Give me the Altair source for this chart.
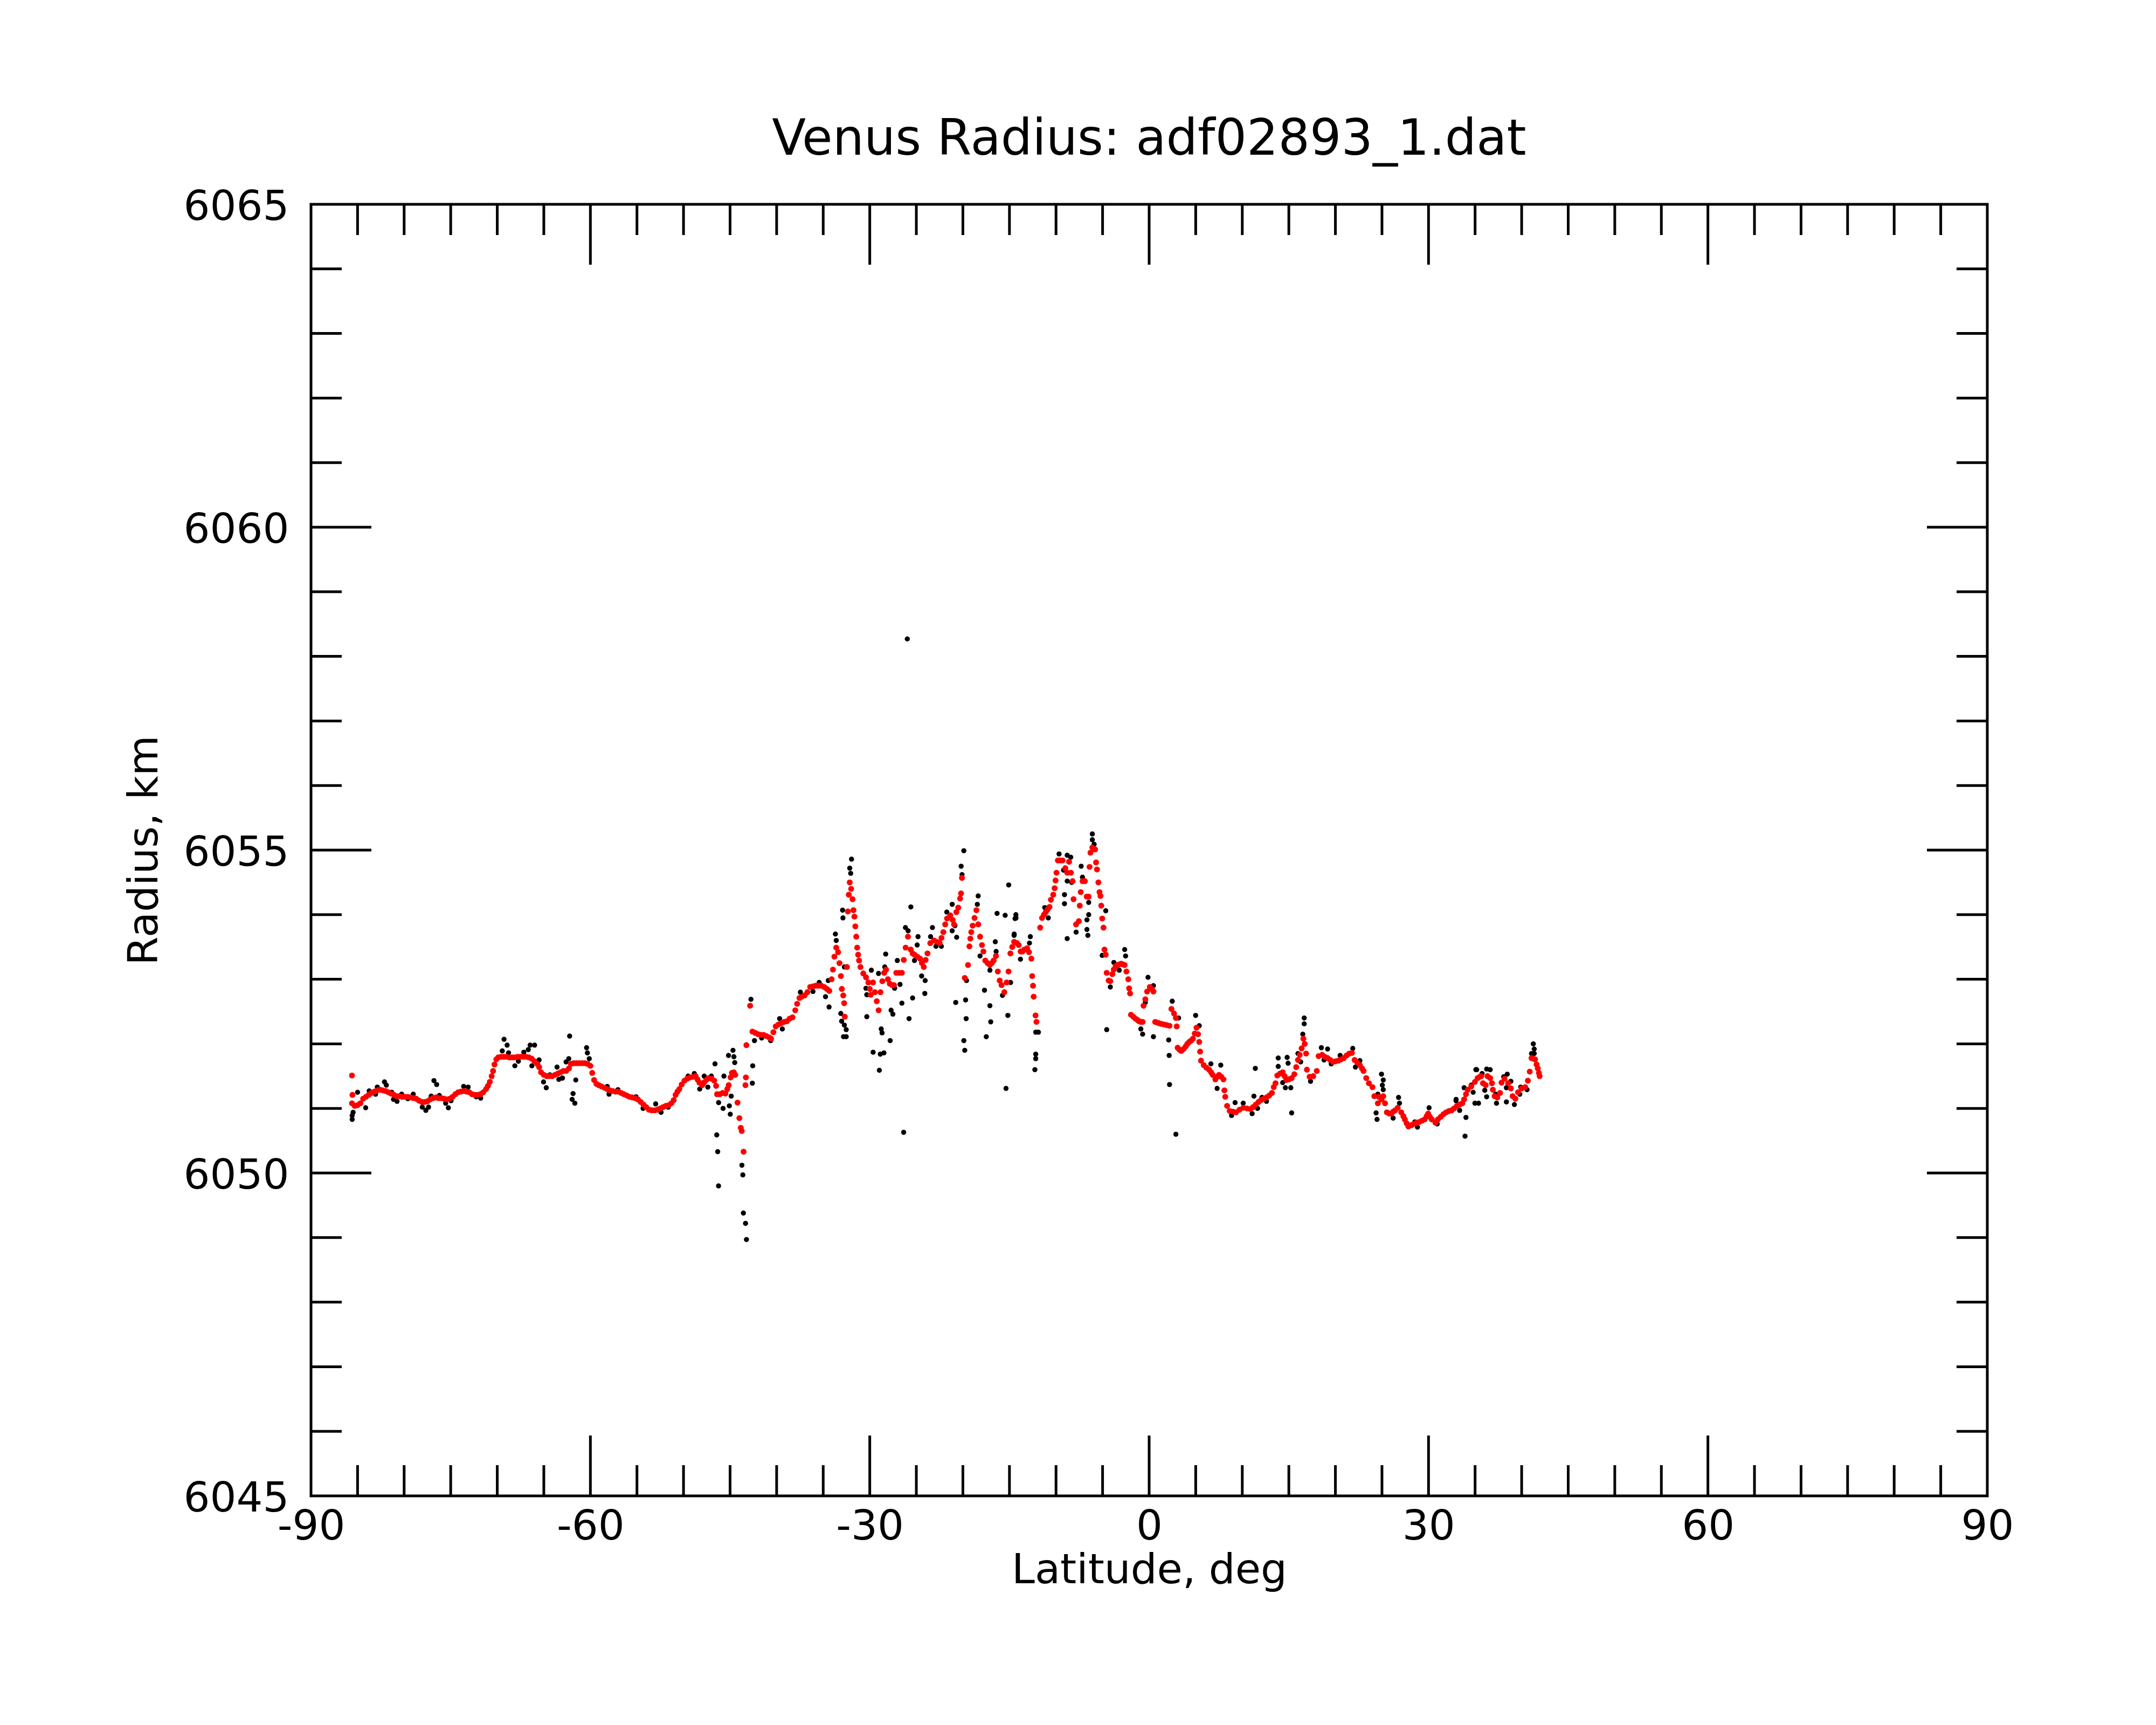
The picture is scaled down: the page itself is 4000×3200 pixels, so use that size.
import altair as alt
import pandas as pd

# ---------------- data ----------------
# smoothed radius (red dots): (latitude deg, radius km)
red_south = [
    (-85.6, 6051.08), (-85.6, 6051.51), (-85.55, 6051.21), (-85.3, 6051.04), (-85.0, 6051.05),
    (-84.7, 6051.08), (-84.4, 6051.15), (-84.1, 6051.18), (-83.8, 6051.21), (-83.5, 6051.24),
    (-83.2, 6051.26), (-82.9, 6051.28), (-82.6, 6051.29), (-82.3, 6051.28), (-82.0, 6051.27),
    (-81.7, 6051.25), (-81.4, 6051.23), (-81.1, 6051.21), (-80.8, 6051.19), (-80.5, 6051.19),
    (-80.2, 6051.18), (-79.9, 6051.18), (-79.6, 6051.18), (-79.3, 6051.17), (-79.0, 6051.16),
    (-78.7, 6051.15), (-78.4, 6051.12), (-78.1, 6051.10), (-77.8, 6051.10), (-77.5, 6051.11),
    (-77.2, 6051.14), (-76.9, 6051.16), (-76.6, 6051.17), (-76.3, 6051.16), (-76.0, 6051.16),
    (-75.7, 6051.15), (-75.4, 6051.14), (-75.1, 6051.15), (-74.8, 6051.18), (-74.5, 6051.22),
    (-74.2, 6051.25), (-73.9, 6051.26), (-73.6, 6051.27), (-73.3, 6051.26), (-73.0, 6051.25),
    (-72.7, 6051.22), (-72.4, 6051.21), (-72.1, 6051.21), (-71.8, 6051.22), (-71.5, 6051.25),
    (-71.2, 6051.30), (-71.0, 6051.35), (-70.8, 6051.41), (-70.6, 6051.50), (-70.45, 6051.58),
    (-70.3, 6051.68), (-70.1, 6051.76), (-69.9, 6051.79), (-69.6, 6051.80), (-69.3, 6051.80),
    (-69.0, 6051.80), (-68.7, 6051.79), (-68.4, 6051.79), (-68.1, 6051.79), (-67.8, 6051.80),
    (-67.5, 6051.80), (-67.2, 6051.80), (-66.9, 6051.80), (-66.6, 6051.79), (-66.3, 6051.77),
    (-66.0, 6051.73), (-65.7, 6051.69), (-65.5, 6051.64), (-65.3, 6051.56), (-65.0, 6051.52),
    (-64.7, 6051.50), (-64.4, 6051.50), (-64.1, 6051.50), (-63.8, 6051.52), (-63.5, 6051.54),
    (-63.2, 6051.56), (-62.9, 6051.58), (-62.6, 6051.58), (-62.3, 6051.62), (-62.1, 6051.69),
    (-61.8, 6051.70), (-61.5, 6051.70), (-61.2, 6051.70), (-60.9, 6051.70), (-60.6, 6051.70),
    (-60.3, 6051.69), (-60.0, 6051.66), (-59.8, 6051.55), (-59.6, 6051.44), (-59.35, 6051.38),
    (-59.1, 6051.36), (-58.8, 6051.34), (-58.5, 6051.32), (-58.2, 6051.30), (-57.9, 6051.28),
    (-57.6, 6051.27), (-57.3, 6051.26), (-57.0, 6051.26), (-56.7, 6051.24), (-56.4, 6051.22),
    (-56.1, 6051.20), (-55.8, 6051.18), (-55.5, 6051.17), (-55.2, 6051.16), (-54.9, 6051.14),
    (-54.6, 6051.10), (-54.3, 6051.06), (-54.0, 6051.02), (-53.7, 6050.98), (-53.4, 6050.97),
    (-53.1, 6050.97), (-52.8, 6050.98), (-52.5, 6051.00), (-52.2, 6051.02), (-51.9, 6051.04),
    (-51.6, 6051.05), (-51.3, 6051.08), (-51.05, 6051.13), (-50.85, 6051.21), (-50.65, 6051.26),
    (-50.45, 6051.30), (-50.2, 6051.37), (-49.9, 6051.43), (-49.6, 6051.46), (-49.3, 6051.48),
    (-49.0, 6051.49), (-48.7, 6051.50), (-48.5, 6051.45), (-48.3, 6051.40), (-48.0, 6051.36),
    (-47.8, 6051.40), (-47.55, 6051.44), (-47.3, 6051.47), (-47.0, 6051.46), (-46.7, 6051.43),
    (-46.5, 6051.35), (-46.4, 6051.22), (-46.1, 6051.22), (-45.8, 6051.24), (-45.5, 6051.23),
    (-45.3, 6051.30), (-45.15, 6051.36), (-44.95, 6051.48), (-44.8, 6051.55), (-44.6, 6051.56),
    (-44.45, 6051.52), (-44.2, 6051.09), (-44.0, 6050.85), (-43.85, 6050.70), (-43.75, 6050.65),
    (-43.55, 6050.33), (-43.35, 6051.36), (-43.3, 6051.48), (-43.25, 6051.98), (-42.85, 6052.59),
    (-42.6, 6052.19), (-42.3, 6052.17), (-42.0, 6052.15), (-41.7, 6052.14), (-41.4, 6052.14),
    (-41.1, 6052.12), (-40.8, 6052.10), (-40.6, 6052.08), (-40.35, 6052.18), (-40.1, 6052.27),
    (-39.8, 6052.30), (-39.5, 6052.32), (-39.2, 6052.34), (-38.9, 6052.35), (-38.6, 6052.39),
    (-38.3, 6052.41), (-38.0, 6052.52), (-37.8, 6052.62), (-37.55, 6052.71), (-37.3, 6052.73),
]
red_middle = [
    (-37.0, 6052.75), (-36.7, 6052.80), (-36.4, 6052.88), (-36.1, 6052.89), (-35.8, 6052.90),
    (-35.5, 6052.90), (-35.2, 6052.90), (-34.9, 6052.88), (-34.6, 6052.85), (-34.35, 6052.82),
    (-34.1, 6053.00), (-33.95, 6053.15), (-33.8, 6053.35), (-33.6, 6053.49), (-33.4, 6053.42),
    (-33.25, 6053.25), (-33.1, 6053.05), (-33.0, 6052.85), (-32.85, 6052.75), (-32.75, 6052.63),
    (-32.68, 6052.42), (-32.45, 6053.19), (-32.35, 6054.05), (-32.25, 6054.31), (-32.15, 6054.50),
    (-32.0, 6054.40), (-31.85, 6054.24), (-31.75, 6054.07), (-31.65, 6053.97), (-31.55, 6053.82),
    (-31.45, 6053.66), (-31.35, 6053.49), (-31.25, 6053.38), (-31.15, 6053.29), (-31.0, 6053.19),
    (-30.7, 6053.09), (-30.4, 6053.03), (-30.15, 6052.95), (-30.0, 6052.85), (-29.9, 6052.76),
    (-29.65, 6052.95), (-29.45, 6052.80), (-29.25, 6052.66), (-29.05, 6052.52), (-28.85, 6052.80),
    (-28.65, 6052.97), (-28.45, 6053.10), (-28.25, 6053.15), (-28.05, 6053.00), (-27.85, 6052.93),
    (-27.6, 6052.91), (-27.4, 6052.91), (-27.15, 6053.10), (-26.85, 6053.10), (-26.55, 6053.10),
    (-26.35, 6053.30), (-26.15, 6053.49), (-25.9, 6053.66), (-25.6, 6053.46), (-25.4, 6053.40),
    (-25.2, 6053.38), (-24.9, 6053.35), (-24.6, 6053.32), (-24.4, 6053.25), (-24.2, 6053.19),
    (-24.0, 6053.30), (-23.8, 6053.40), (-23.5, 6053.56), (-23.1, 6053.60), (-22.8, 6053.58),
    (-22.5, 6053.56), (-22.3, 6053.64), (-22.1, 6053.73), (-21.9, 6053.85), (-21.7, 6053.94),
    (-21.35, 6053.99), (-21.1, 6053.92), (-20.95, 6053.85), (-20.7, 6054.04), (-20.5, 6054.11),
    (-20.3, 6054.25), (-20.2, 6054.33), (-20.1, 6054.57), (-19.8, 6053.02), (-19.45, 6053.22),
    (-19.3, 6053.51), (-19.2, 6053.63), (-19.1, 6053.73), (-18.95, 6053.83), (-18.75, 6053.95),
    (-18.55, 6054.07), (-18.35, 6053.85), (-18.15, 6053.66), (-17.95, 6053.53), (-17.8, 6053.43),
    (-17.6, 6053.29), (-17.35, 6053.25), (-17.1, 6053.22), (-16.9, 6053.25), (-16.7, 6053.29),
    (-16.45, 6053.36), (-16.25, 6053.12), (-16.05, 6052.98), (-15.85, 6052.91), (-15.55, 6052.80),
    (-15.3, 6052.95), (-15.1, 6053.12), (-14.9, 6053.40), (-14.7, 6053.50), (-14.5, 6053.58),
    (-14.2, 6053.56), (-14.0, 6053.53), (-13.8, 6053.43), (-13.6, 6053.43), (-13.4, 6053.46),
    (-13.1, 6053.48), (-12.9, 6053.42), (-12.65, 6053.32), (-12.56, 6053.05), (-12.47, 6052.90),
    (-12.4, 6052.73), (-12.2, 6052.44), (-12.1, 6052.34), (-11.7, 6053.80), (-11.5, 6053.95),
    (-11.3, 6054.00), (-11.1, 6054.04), (-10.9, 6054.08), (-10.7, 6054.12), (-10.55, 6054.23),
    (-10.3, 6054.31), (-10.15, 6054.41), (-10.05, 6054.53), (-9.95, 6054.65), (-9.8, 6054.84),
    (-9.55, 6054.84), (-9.3, 6054.84), (-9.0, 6054.72), (-8.8, 6054.65), (-8.6, 6054.82),
    (-8.4, 6054.65), (-8.22, 6054.52), (-8.12, 6054.24), (-7.85, 6053.85), (-7.55, 6053.90),
    (-7.45, 6054.14), (-7.35, 6054.35), (-7.15, 6054.52), (-6.9, 6054.52), (-6.7, 6054.28),
    (-6.5, 6054.28), (-6.4, 6054.74), (-6.3, 6054.96), (-6.1, 6055.04), (-5.8, 6055.01),
    (-5.7, 6054.81), (-5.6, 6054.70), (-5.45, 6054.50), (-5.33, 6054.35), (-5.23, 6054.29),
    (-5.14, 6054.14), (-5.04, 6053.94), (-4.9, 6053.80), (-4.8, 6053.46), (-4.66, 6053.38),
    (-4.56, 6053.10), (-4.35, 6052.98), (-4.17, 6052.97), (-3.95, 6053.08), (-3.8, 6053.15),
    (-3.6, 6053.20), (-3.4, 6053.22), (-3.2, 6053.23), (-3.0, 6053.24), (-2.8, 6053.23),
    (-2.63, 6053.22), (-2.44, 6053.12), (-2.24, 6053.00), (-2.15, 6052.86), (-2.05, 6052.78),
    (-1.95, 6052.45), (-1.7, 6052.42), (-1.47, 6052.39), (-1.25, 6052.37), (-1.09, 6052.35),
    (-0.9, 6052.34), (-0.7, 6052.34), (-0.6, 6052.59), (-0.41, 6052.69), (-0.22, 6052.81),
]
red_north = [
    (0.07, 6052.88), (0.3, 6052.85), (0.46, 6052.81), (0.65, 6052.34), (0.85, 6052.33),
    (1.04, 6052.32), (1.3, 6052.31), (1.6, 6052.30), (1.9, 6052.29), (2.19, 6052.28),
    (2.39, 6052.54), (2.67, 6052.47), (2.87, 6052.40), (2.96, 6052.27), (3.06, 6051.94),
    (3.25, 6051.91), (3.45, 6051.89), (3.7, 6051.92), (3.93, 6051.96), (4.1, 6052.00),
    (4.31, 6052.03), (4.5, 6052.05), (4.7, 6052.08), (4.9, 6052.16), (5.09, 6052.25),
    (5.25, 6052.15), (5.38, 6052.03), (5.47, 6051.88), (5.57, 6051.74), (5.86, 6051.67),
    (6.15, 6051.63), (6.44, 6051.60), (6.65, 6051.56), (6.82, 6051.52), (7.11, 6051.45),
    (7.3, 6051.49), (7.5, 6051.52), (7.75, 6051.49), (7.98, 6051.45), (8.08, 6051.28),
    (8.17, 6051.18), (8.37, 6051.04), (8.65, 6050.96), (9.0, 6050.95), (9.33, 6050.94),
    (9.7, 6050.98), (10.1, 6051.01), (10.5, 6051.00), (10.87, 6050.99), (11.15, 6051.02),
    (11.45, 6051.06), (11.75, 6051.10), (12.02, 6051.13), (12.3, 6051.15), (12.6, 6051.17),
    (12.9, 6051.20), (13.18, 6051.24), (13.38, 6051.33), (13.57, 6051.39), (13.76, 6051.51),
    (14.05, 6051.54), (14.34, 6051.56), (14.55, 6051.50), (14.73, 6051.44), (15.0, 6051.45),
    (15.3, 6051.47), (15.59, 6051.53), (15.79, 6051.64), (15.98, 6051.75), (16.17, 6051.83),
    (16.37, 6051.93), (16.56, 6052.08), (16.7, 6052.00), (16.85, 6051.85), (16.94, 6051.60),
    (17.23, 6051.49), (17.62, 6051.50), (18.0, 6051.58), (18.2, 6051.81), (18.58, 6051.83),
    (18.85, 6051.80), (19.16, 6051.78), (19.45, 6051.75), (19.74, 6051.72), (20.03, 6051.73),
    (20.32, 6051.74), (20.6, 6051.76), (20.9, 6051.78), (21.2, 6051.82), (21.48, 6051.85),
    (21.77, 6051.86), (22.06, 6051.75), (22.35, 6051.71), (22.63, 6051.67), (22.85, 6051.62),
    (23.02, 6051.58), (23.31, 6051.47), (23.6, 6051.39), (23.98, 6051.33), (24.18, 6051.19),
    (24.56, 6051.08), (24.66, 6051.18), (24.95, 6051.14), (25.14, 6051.19), (25.33, 6051.08),
    (25.53, 6050.94), (25.8, 6050.92), (26.01, 6050.92), (26.2, 6050.95), (26.4, 6050.97),
    (26.69, 6051.01), (27.07, 6050.94), (27.3, 6050.88), (27.46, 6050.83), (27.65, 6050.77),
    (27.84, 6050.72), (28.15, 6050.74), (28.42, 6050.76), (28.7, 6050.78), (29.0, 6050.79),
    (29.3, 6050.81), (29.58, 6050.83), (29.8, 6050.88), (29.96, 6050.92), (30.15, 6050.87),
    (30.35, 6050.83), (30.74, 6050.78), (31.0, 6050.83), (31.31, 6050.87), (31.6, 6050.91),
    (31.89, 6050.94), (32.2, 6050.96), (32.47, 6050.97), (32.75, 6051.00), (33.05, 6051.04),
    (33.35, 6051.06), (33.63, 6051.08), (33.82, 6051.14), (34.02, 6051.22), (34.21, 6051.29),
    (34.59, 6051.34), (34.98, 6051.41), (35.27, 6051.47), (35.5, 6051.49), (35.66, 6051.50),
    (35.85, 6051.39), (36.14, 6051.36), (36.33, 6051.50), (36.62, 6051.47), (36.81, 6051.39),
    (36.91, 6051.29), (37.1, 6051.19), (37.39, 6051.17), (37.68, 6051.24), (37.84, 6051.40),
    (38.16, 6051.46), (38.55, 6051.39), (38.84, 6051.31), (39.03, 6051.19), (39.32, 6051.15),
    (39.61, 6051.25), (40.0, 6051.31), (40.38, 6051.33), (40.67, 6051.43), (40.87, 6051.57),
    (41.06, 6051.78), (41.25, 6051.77), (41.44, 6051.76), (41.6, 6051.68), (41.73, 6051.62),
    (41.85, 6051.55), (41.93, 6051.50),
]

# raw radius samples (black dots) that are visible around the smoothed curve
black_south = [
    (-85.58, 6050.89), (-85.58, 6050.83), (-85.48, 6050.94), (-85.0, 6051.25), (-84.13, 6051.01),
    (-83.75, 6051.27), (-83.07, 6051.22), (-82.88, 6051.33), (-82.11, 6051.41), (-81.91, 6051.36),
    (-81.33, 6051.25), (-81.14, 6051.14), (-80.76, 6051.11), (-80.27, 6051.22), (-79.60, 6051.15),
    (-79.02, 6051.22), (-78.05, 6051.02), (-77.67, 6050.97), (-77.38, 6051.02), (-77.09, 6051.19),
    (-76.80, 6051.43), (-76.51, 6051.37), (-76.22, 6051.20), (-75.54, 6051.08), (-75.25, 6051.01),
    (-74.96, 6051.12), (-73.61, 6051.34), (-73.13, 6051.33), (-72.26, 6051.18), (-71.78, 6051.16),
    (-69.46, 6051.89), (-69.27, 6052.07), (-68.94, 6051.98), (-68.79, 6051.86), (-68.11, 6051.66),
    (-67.73, 6051.73), (-67.15, 6051.87), (-66.67, 6051.91), (-66.47, 6051.98), (-65.99, 6051.98),
    (-66.28, 6051.66), (-65.51, 6051.75), (-65.03, 6051.41), (-64.74, 6051.32), (-64.35, 6051.52),
    (-63.58, 6051.64), (-63.39, 6051.45), (-63.00, 6051.47), (-62.61, 6051.72), (-62.32, 6051.77),
    (-62.23, 6052.12), (-60.41, 6051.94), (-60.32, 6051.86), (-60.12, 6051.77), (-63.02, 6051.47),
    (-61.57, 6051.44), (-61.86, 6051.23), (-61.96, 6051.14), (-61.67, 6051.08), (-58.19, 6051.34),
    (-58.0, 6051.22), (-57.04, 6051.29), (-55.11, 6051.18), (-54.34, 6051.0), (-52.99, 6051.07),
    (-52.41, 6050.94), (-51.64, 6051.02), (-49.51, 6051.50), (-48.84, 6051.54), (-48.26, 6051.30),
    (-47.78, 6051.50), (-47.39, 6051.33), (-47.01, 6051.50), (-46.62, 6051.69), (-46.23, 6051.09),
    (-45.75, 6051.0), (-45.66, 6051.50), (-45.17, 6051.82), (-44.69, 6051.90), (-44.59, 6051.80),
    (-44.50, 6051.71), (-44.88, 6051.19), (-45.08, 6051.04), (-44.98, 6050.91), (-46.43, 6050.59),
    (-46.33, 6050.33), (-46.24, 6049.80), (-43.73, 6050.12), (-43.63, 6049.97), (-43.57, 6049.38),
    (-43.34, 6049.22), (-43.24, 6048.97), (-42.57, 6051.66), (-42.61, 6051.39), (-42.38, 6052.05),
    (-42.76, 6052.69), (-39.68, 6052.39), (-39.39, 6052.23), (-41.61, 6052.09), (-40.64, 6052.05),
]
black_middle = [
    (-37.45, 6052.80), (-36.10, 6052.81), (-35.43, 6052.95), (-34.46, 6052.98), (-34.75, 6052.73),
    (-34.37, 6052.57), (-33.69, 6053.70), (-33.60, 6053.60), (-33.11, 6052.47), (-33.02, 6052.35),
    (-32.73, 6052.29), (-32.53, 6052.22), (-32.82, 6052.11), (-32.53, 6052.11), (-32.73, 6053.19),
    (-32.92, 6054.07), (-32.88, 6053.95), (-32.05, 6054.64), (-32.15, 6054.72), (-31.96, 6054.86),
    (-30.41, 6052.86), (-30.32, 6052.76), (-30.32, 6052.42), (-29.83, 6053.14), (-29.06, 6053.09),
    (-28.29, 6053.39), (-28.39, 6053.19), (-29.64, 6051.87), (-28.87, 6051.84), (-28.48, 6051.86),
    (-28.97, 6051.59), (-28.77, 6052.23), (-28.68, 6052.17), (-27.81, 6052.05), (-27.71, 6052.52),
    (-27.52, 6052.46), (-27.33, 6052.86), (-27.04, 6053.29), (-26.75, 6052.92), (-26.55, 6052.63),
    (-26.36, 6050.63), (-25.97, 6058.27), (-25.78, 6052.39), (-26.17, 6053.80), (-25.88, 6053.75),
    (-25.59, 6054.12), (-25.40, 6052.71), (-25.20, 6053.29), (-24.82, 6053.66), (-24.91, 6053.53),
    (-24.43, 6053.05), (-24.05, 6052.98), (-24.09, 6052.78), (-23.27, 6053.80), (-23.47, 6053.66),
    (-22.89, 6053.51), (-22.31, 6053.51), (-21.73, 6054.04), (-21.15, 6054.16), (-20.86, 6053.83),
    (-20.67, 6053.65), (-21.15, 6053.75), (-20.77, 6052.64), (-19.90, 6054.99), (-20.19, 6054.75),
    (-20.09, 6054.62), (-19.61, 6052.98), (-19.71, 6052.68), (-19.65, 6052.39), (-19.90, 6052.05),
    (-19.80, 6051.90), (-18.36, 6054.29), (-18.45, 6054.16), (-18.16, 6053.36), (-17.68, 6052.83),
    (-17.10, 6052.59), (-17.01, 6052.34), (-17.49, 6052.11), (-16.33, 6054.02), (-15.46, 6053.99),
    (-15.08, 6054.46), (-14.31, 6054.00), (-14.40, 6053.94), (-16.52, 6053.58), (-16.43, 6053.43),
    (-17.10, 6053.14), (-15.75, 6052.75), (-15.17, 6052.44), (-15.37, 6051.31), (-14.50, 6053.68),
    (-13.82, 6053.31), (-14.88, 6052.95), (-14.30, 6053.95), (-14.49, 6053.70), (-12.76, 6053.66),
    (-12.85, 6053.56), (-11.21, 6054.11), (-10.83, 6053.95), (-9.67, 6054.94), (-8.80, 6054.92),
    (-8.42, 6054.89), (-9.19, 6054.69), (-8.80, 6054.52), (-8.32, 6054.50), (-9.09, 6054.31),
    (-9.09, 6054.17), (-8.80, 6053.63), (-7.84, 6053.73), (-7.30, 6054.75), (-7.16, 6054.58),
    (-6.68, 6053.92), (-6.68, 6053.77), (-6.58, 6053.68), (-6.49, 6054.00), (-6.49, 6054.19),
    (-6.10, 6055.25), (-6.10, 6055.16), (-5.91, 6055.09), (-4.66, 6054.06), (-5.04, 6053.37),
    (-4.56, 6052.22), (-4.17, 6052.88), (-3.79, 6053.26), (-2.63, 6053.46), (-2.53, 6053.36),
    (-3.21, 6053.14), (-0.89, 6052.23), (-0.70, 6052.15), (-0.12, 6053.03), (-0.41, 6052.64),
    (-12.18, 6052.18), (-11.89, 6052.18), (-12.18, 6051.84), (-12.18, 6051.77), (-12.27, 6051.60),
]
black_north = [
    (0.46, 6052.90), (0.46, 6052.11), (2.10, 6052.06), (2.15, 6051.82), (2.19, 6051.37),
    (2.48, 6052.66), (2.87, 6050.60), (3.16, 6052.40), (4.99, 6052.44), (5.38, 6052.28),
    (6.63, 6051.69), (7.69, 6051.67), (7.30, 6051.31), (9.23, 6051.09), (10.10, 6051.08),
    (8.85, 6050.89), (11.06, 6050.92), (11.25, 6051.19), (11.4, 6051.62), (11.64, 6051.00),
    (12.12, 6051.17), (12.60, 6051.11), (13.86, 6051.78), (13.86, 6051.65), (14.82, 6051.79),
    (14.92, 6051.70), (14.34, 6051.40), (14.63, 6051.32), (15.21, 6051.32), (15.30, 6050.93),
    (15.98, 6051.85), (16.27, 6051.72), (16.65, 6052.40), (16.65, 6052.31), (16.50, 6052.15),
    (17.33, 6051.42), (18.49, 6051.94), (19.16, 6051.92), (18.78, 6051.75), (19.55, 6051.69),
    (20.51, 6051.82), (21.86, 6051.93), (22.15, 6051.64), (22.63, 6051.74), (24.95, 6051.53),
    (25.14, 6051.44), (25.04, 6051.36), (25.14, 6051.29), (24.56, 6051.22), (24.37, 6050.93),
    (24.47, 6050.83), (26.78, 6051.17), (26.88, 6051.08), (26.20, 6050.85), (28.52, 6050.79),
    (28.81, 6050.71), (30.06, 6051.01), (30.93, 6050.76), (32.95, 6051.12), (33.82, 6051.32),
    (34.02, 6050.86), (33.92, 6050.57), (34.98, 6051.08), (35.08, 6051.60), (34.79, 6051.25),
    (34.59, 6051.36), (32.96, 6051.14), (33.34, 6050.97), (35.17, 6051.60), (35.75, 6051.54),
    (36.24, 6051.61), (36.62, 6051.60), (35.37, 6051.08), (36.04, 6051.28), (36.24, 6051.18),
    (37.30, 6051.08), (37.20, 6051.22), (38.36, 6051.10), (38.45, 6051.53), (38.07, 6051.49),
    (38.84, 6051.42), (38.36, 6051.32), (39.22, 6051.06), (39.80, 6051.22), (39.90, 6051.33),
    (40.58, 6051.29), (41.25, 6052.00), (41.35, 6051.92), (41.35, 6051.85), (41.06, 6051.85),
]

# axis ticks and labels
x_labels = [-90, -60, -30, 0, 30, 60, 90]
y_labels = [6045, 6050, 6055, 6060, 6065]
x_major = [-60, -30, 0, 30, 60]
x_minor = [v for v in range(-85, 90, 5) if v % 30 != 0]
y_major = [6050, 6055, 6060]
y_minor = [v for v in range(6046, 6065) if v % 5 != 0]

# ---------------- chart ----------------
W, H = 3110, 2396
MAJOR, MINOR = 112, 57
FONT = "DejaVu Sans"

red_df = pd.DataFrame(red_south + red_middle + red_north, columns=["lat", "r"])
black_df = pd.DataFrame(black_south + black_middle + black_north, columns=["lat", "r"])

xs = alt.Scale(domain=[-90, 90], nice=False, zero=False)
ys = alt.Scale(domain=[6045, 6065], nice=False, zero=False)

x_axis = alt.Axis(
    values=x_labels, labelExpr="datum.value + ''", grid=False, domain=False, ticks=False,
    tickSize=0, labelFlush=False, labelOverlap=False, labelLimit=1000, labelFont=FONT,
    labelFontSize=77, labelColor="black", labelBaseline="alphabetic", labelPadding=80,
    title="Latitude, deg", titleFont=FONT, titleFontSize=77, titleFontWeight="normal",
    titleColor="black", titleX=W / 2, titleY=161, titleBaseline="alphabetic", titleAlign="center",
)
y_axis = alt.Axis(
    values=y_labels, labelExpr="datum.value + ''", grid=False, domain=False, ticks=False,
    tickSize=0, labelFlush=False, labelOverlap=False, labelLimit=1000, labelFont=FONT,
    labelFontSize=77, labelColor="black", labelBaseline="alphabetic", labelOffset=28,
    labelPadding=41,
    title="Radius, km", titleFont=FONT, titleFontSize=77, titleFontWeight="normal",
    titleColor="black", titleX=-286, titleY=H / 2, titleAngle=270,
    titleBaseline="alphabetic", titleAlign="center",
)

black_layer = alt.Chart(black_df).mark_circle(color="black", size=90, opacity=1).encode(
    x=alt.X("lat:Q", scale=xs, axis=x_axis),
    y=alt.Y("r:Q", scale=ys, axis=y_axis),
)
red_layer = alt.Chart(red_df).mark_circle(color="#ff0000", size=120, opacity=1).encode(
    x=alt.X("lat:Q", scale=xs, axis=x_axis),
    y=alt.Y("r:Q", scale=ys, axis=y_axis),
)

def xticks(vals, length):
    df = pd.DataFrame({"lat": vals})
    bottom = alt.Chart(df).mark_rule(color="black", strokeWidth=5).encode(
        x=alt.X("lat:Q", scale=xs, axis=x_axis), y=alt.value(H), y2=alt.value(H - length))
    top = alt.Chart(df).mark_rule(color="black", strokeWidth=5).encode(
        x=alt.X("lat:Q", scale=xs, axis=x_axis), y=alt.value(0), y2=alt.value(length))
    return [bottom, top]

def yticks(vals, length):
    df = pd.DataFrame({"r": vals})
    left = alt.Chart(df).mark_rule(color="black", strokeWidth=5).encode(
        y=alt.Y("r:Q", scale=ys, axis=y_axis), x=alt.value(0), x2=alt.value(length))
    right = alt.Chart(df).mark_rule(color="black", strokeWidth=5).encode(
        y=alt.Y("r:Q", scale=ys, axis=y_axis), x=alt.value(W), x2=alt.value(W - length))
    return [left, right]

layers = [black_layer, red_layer] + xticks(x_major, MAJOR) + xticks(x_minor, MINOR) \
    + yticks(y_major, MAJOR) + yticks(y_minor, MINOR)

chart = alt.layer(*layers).properties(
    width=W, height=H,
    title=alt.TitleParams(
        "Venus Radius: adf02893_1.dat", font=FONT, fontSize=92, fontWeight="normal",
        color="black", anchor="middle", frame="group", baseline="alphabetic", offset=-34,
    ),
    autosize=alt.AutoSizeParams(type="none"),
    padding={"left": 569, "top": 371, "right": 200, "bottom": 400},
    background="white",
).configure(
    font=FONT,
    view=alt.ViewConfig(stroke="black", strokeWidth=5),
)

chart.save("out.html", embed_options={"renderer": "svg", "actions": False})
